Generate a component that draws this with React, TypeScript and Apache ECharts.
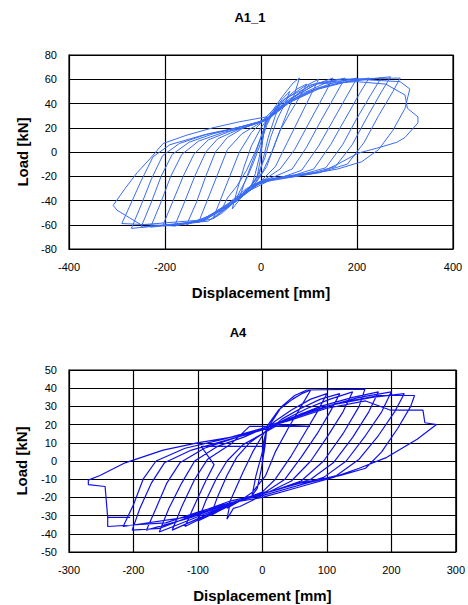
import React, { useEffect, useRef } from "react";
import * as echarts from "echarts";

// ---- Chart A1_1 : load-displacement hysteresis (mm, kN) ----
const a1Title = "A1_1";
const a1XRange = [-400, 400, 200];
const a1YRange = [-80, 80, 20];
const a1Cycles: number[][][] = [
  [[0, 0], [4, 12], [8, 22], [12, 29], [6, 18], [2, 5], [-2, -8], [-8, -20], [-20, -28], [-12, -18], [-4, -5], [2, 8], [10, 24], [25, 33], [40, 40], [30, 30], [15, 12], [5, -5], [-5, -20], [-25, -30], [-45, -38], [-35, -26], [-15, -5], [0, 12], [12, 26]],
  [[25, 33], [45, 44], [60, 50], [50, 40], [35, 28], [20, 12], [8, -5], [-8, -20], [-25, -30], [-40, -36], [-55, -42], [-45, -33], [-30, -22], [-15, -8], [0, 8], [12, 22], [22, 30]],
  [[45, 42], [75, 52], [95, 56], [80, 45], [60, 32], [40, 18], [25, 2], [5, -15], [-15, -27], [-40, -36], [-70, -46], [-85, -50], [-70, -38], [-50, -28], [-30, -15], [-10, 2], [5, 18], [20, 30]],
  [[20, 32], [45, 46], [67, 57], [80, 61], [70, 48], [50, 28], [30, 8], [12, -12], [-10, -25], [-30, -32], [-50, -42], [-60, -47], [-50, -32], [-35, -12], [-20, 5], [0, 20], [15, 28]],
  [[30, 35], [60, 46], [90, 54], [120, 60], [105, 48], [80, 28], [55, 8], [30, -12], [0, -24], [-30, -31], [-60, -43], [-80, -50], [-100, -55], [-85, -40], [-65, -20], [-45, 0], [-20, 16], [0, 24], [20, 30]],
  [[40, 37], [80, 48], [115, 56], [150, 61], [130, 46], [100, 24], [70, 2], [40, -14], [10, -22], [-20, -28], [-50, -38], [-90, -50], [-130, -58], [-112, -40], [-90, -18], [-70, 2], [-40, 15], [-10, 22], [15, 28]],
  [[45, 38], [90, 49], [135, 57], [175, 61], [155, 47], [125, 26], [95, 4], [65, -14], [30, -20], [0, -24], [-30, -30], [-70, -43], [-110, -53], [-155, -60], [-135, -42], [-115, -20], [-95, 0], [-70, 12], [-40, 19], [-10, 24], [20, 29]],
  [[50, 40], [100, 50], [150, 57], [200, 61], [180, 47], [150, 26], [120, 5], [85, -15], [50, -20], [10, -23], [-25, -30], [-70, -44], [-120, -55], [-180, -61], [-160, -42], [-138, -20], [-115, 0], [-90, 11], [-50, 18], [-15, 23], [15, 28]],
  [[55, 40], [110, 51], [165, 57], [225, 61], [205, 48], [175, 27], [145, 6], [110, -14], [70, -19], [25, -22], [-20, -29], [-70, -45], [-130, -57], [-205, -61], [-185, -42], [-162, -20], [-140, -2], [-110, 10], [-65, 17], [-20, 22], [15, 27]],
  [[60, 41], [120, 52], [180, 58], [250, 61], [230, 48], [200, 28], [170, 6], [135, -13], [90, -18], [40, -21], [-10, -27], [-60, -43], [-130, -58], [-230, -62], [-210, -43], [-188, -20], [-165, -2], [-130, 9], [-80, 16], [-30, 21], [10, 26]],
  [[60, 42], [120, 53], [190, 59], [270, 62], [250, 49], [220, 28], [190, 6], [155, -12], [110, -17], [50, -20], [0, -25], [-50, -40], [-120, -57], [-250, -62], [-230, -43], [-208, -20], [-185, -2], [-150, 8], [-100, 15], [-40, 21], [10, 26]],
  [[60, 43], [100, 55], [160, 60], [290, 61], [275, 50], [245, 30], [215, 8], [180, -10], [130, -16], [60, -20], [0, -24], [-40, -37], [-110, -57], [-270, -63], [-250, -44], [-228, -22], [-205, -3], [-170, 7], [-110, 15], [-50, 20], [5, 26]],
  [[60, 44], [120, 57], [200, 60], [290, 58], [310, 52], [300, 36], [275, 18], [245, 2], [210, -8], [160, -14], [90, -19], [20, -23], [-30, -33], [-100, -55], [-180, -61], [-290, -59], [-275, -46], [-250, -24], [-225, -4], [-190, 6], [-120, 14], [-60, 19], [0, 25]],
  [[50, 44], [110, 56], [200, 58], [260, 56], [300, 47], [305, 36], [327, 29], [327, 24], [300, 12], [283, 8], [240, 3], [202, -1], [160, -10], [123, -17], [60, -21], [0, -25], [-50, -38], [-120, -56], [-250, -60], [-300, -48], [-308, -44], [-283, -30], [-258, -17], [-230, -5], [-204, 7], [-154, 14], [-100, 20], [-44, 25], [12, 29]],
];

// ---- Chart A4 ----
const a4Title = "A4";
const a4XRange = [-300, 300, 100];
const a4YRange = [-50, 50, 10];
const a4Cycles: number[][][] = [
  [[0, 0], [3, 10], [7, 19], [4, 8], [-2, -5], [-8, -15], [-16, -19], [-10, -8], [0, 5], [7, 19]],
  [[25, 28], [47, 34], [61, 37], [75, 39], [60, 30], [40, 18], [20, 5], [5, -8], [-15, -17], [-35, -22], [-55, -26], [-45, -18], [-30, -6], [-15, 5], [0, 14], [10, 19]],
  [[20, 22], [45, 28], [75, 34], [100, 37], [85, 27], [65, 15], [45, 3], [20, -10], [0, -17], [-30, -21], [-55, -25], [-80, -30], [-70, -20], [-55, -8], [-40, 2], [-20, 10], [0, 15], [20, 20]],
  [[30, 23], [60, 29], [90, 34], [120, 37], [105, 27], [85, 15], [60, 2], [35, -10], [5, -17], [-30, -21], [-65, -27], [-100, -33], [-88, -22], [-72, -10], [-55, 0], [-30, 9], [0, 15], [20, 19]],
  [[30, 22], [70, 29], [105, 34], [140, 38], [125, 27], [100, 13], [75, 0], [45, -11], [10, -17], [-30, -21], [-75, -28], [-120, -36], [-105, -24], [-88, -11], [-75, -2], [-95, 8], [0, 8], [5, 15], [10, 19]],
  [[30, 30], [50, 36], [69, 39], [159, 39.5], [150, 30], [125, 15], [95, 0], [60, -11], [20, -16], [-20, -20], [-70, -27], [-140, -38], [-125, -25], [-105, -10], [-85, 1], [-50, 9], [-20, 19], [74, 19], [15, 20]],
  [[40, 23], [90, 30], [140, 35], [180, 38], [165, 27], [140, 13], [110, -1], [75, -10], [30, -15], [-10, -19], [-60, -25], [-110, -32], [-160, -39], [-145, -26], [-125, -12], [-105, 0], [-70, 8], [-30, 13], [10, 19]],
  [[50, 24], [100, 30], [150, 35], [200, 38], [185, 27], [160, 14], [130, 0], [95, -9], [50, -14], [0, -19], [-35, -25], [-45, -26], [-55, -32], [-50, -23], [-110, -31], [-180, -38], [-165, -26], [-148, -12], [-128, -1], [-90, 7], [-40, 13], [10, 19]],
  [[60, 25], [110, 31], [170, 35], [220, 37], [205, 27], [180, 14], [150, 1], [115, -8], [70, -12], [10, -18], [-40, -22], [-100, -29], [-160, -37], [-202, -38], [-190, -26], [-172, -12], [-152, -1], [-110, 6], [-50, 12], [10, 18]],
  [[60, 26], [120, 32], [180, 36], [236, 36], [230, 30], [210, 18], [185, 5], [160, -4], [120, -8], [60, -12], [0, -18], [-50, -22], [-120, -31], [-216, -36], [-200, -24], [-185, -10], [-165, 0], [-120, 7], [-60, 12], [0, 18]],
  [[40, 22], [100, 29], [160, 33], [198, 28], [249, 28], [252, 21], [270, 20], [240, 12], [193, 2], [150, -4], [110, -9], [60, -14], [0, -20], [-50, -23], [-100, -28], [-150, -34], [-240, -36], [-240, -31], [-205, -31], [-240, -31], [-244, -14], [-270, -13], [-270, -10.5], [-252, -8], [-213, -1], [-154, 6], [-101, 10], [-50, 13], [12, 18]],
];

const xName = "Displacement [mm]";
const yName = "Load [kN]";

export default function App() {
  const ref = useRef<HTMLDivElement>(null);
  useEffect(() => {
    if (!ref.current) return;
    const chart = echarts.init(ref.current, undefined, { renderer: "svg" });
    const font = "Liberation Sans";
    const mkX = (r: number[], gi: number, gap: number) => ({
      type: "value",
      gridIndex: gi,
      min: r[0],
      max: r[1],
      interval: r[2],
      name: xName,
      nameLocation: "middle",
      nameGap: gap,
      nameTextStyle: { fontFamily: font, fontWeight: "bold", fontSize: 15, color: "#000" },
      axisLine: { show: true, onZero: false, lineStyle: { color: "#000", width: 1 } },
      axisTick: { show: false },
      axisLabel: { color: "#000", fontFamily: font, fontSize: 11, margin: 12 },
      splitLine: { show: true, lineStyle: { color: "#000", width: 1.2 } },
    });
    const mkY = (r: number[], gi: number, gap: number) => ({
      type: "value",
      gridIndex: gi,
      min: r[0],
      max: r[1],
      interval: r[2],
      name: yName,
      nameLocation: "middle",
      nameGap: gap,
      nameTextStyle: { fontFamily: font, fontWeight: "bold", fontSize: 15, color: "#000" },
      axisLine: { show: true, onZero: false, lineStyle: { color: "#000", width: 1 } },
      axisTick: { show: false },
      axisLabel: { color: "#000", fontFamily: font, fontSize: 11, margin: 12 },
      splitLine: { show: true, lineStyle: { color: "#000", width: 1.2 } },
    });
    const a1Data = ([] as number[][]).concat(...a1Cycles);
    const a4Data = ([] as number[][]).concat(...a4Cycles);
    chart.setOption({
      animation: false,
      backgroundColor: "#fff",
      graphic: [
        { type: "text", x: 250, y: 17, style: { text: a1Title, font: `bold 13px ${font}`, fill: "#000", textAlign: "center", textVerticalAlign: "middle" } },
        { type: "text", x: 238, y: 332, style: { text: a4Title, font: `bold 13px ${font}`, fill: "#000", textAlign: "center", textVerticalAlign: "middle" } },
      ],
      grid: [
        { left: 69, top: 55, width: 384, height: 194, show: true, borderColor: "#000", borderWidth: 1.2 },
        { left: 69, top: 370, width: 387, height: 182, show: true, borderColor: "#000", borderWidth: 1.2 },
      ],
      xAxis: [mkX(a1XRange, 0, 36), mkX(a4XRange, 1, 36)],
      yAxis: [mkY(a1YRange, 0, 37), mkY(a4YRange, 1, 40)],
      series: [
        {
          type: "line", xAxisIndex: 0, yAxisIndex: 0, data: a1Data, showSymbol: false, symbol: "none",
          lineStyle: { color: "#3a6cf5", width: 1 }, silent: true,
        },
        {
          type: "line", xAxisIndex: 1, yAxisIndex: 1, data: a4Data, showSymbol: false, symbol: "none",
          lineStyle: { color: "#1010ee", width: 1.2 }, silent: true,
        },
      ],
    });
    return () => chart.dispose();
  }, []);
  return <div ref={ref} style={{ position: "absolute", left: 0, top: 0, width: 468, height: 605 }} />;
}
